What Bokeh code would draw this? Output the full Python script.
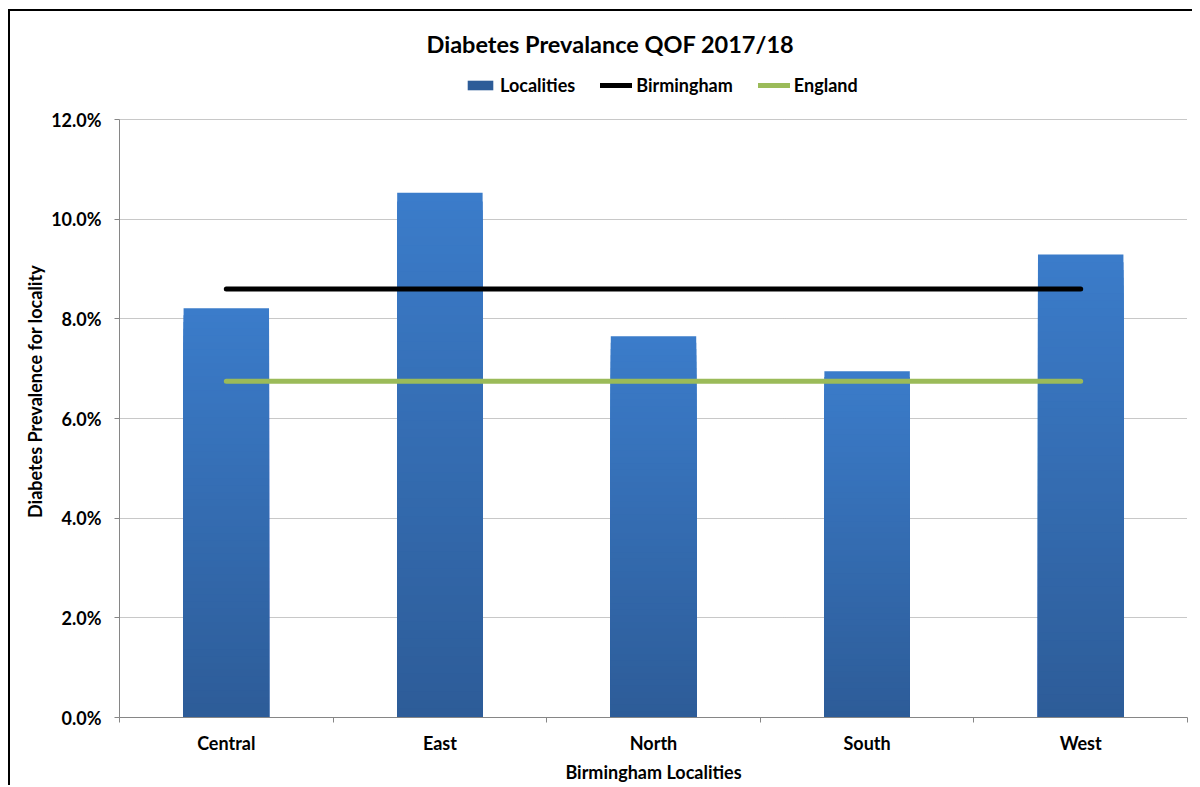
from bokeh.plotting import figure
from bokeh.models import (Legend, LegendItem, FixedTicker, PrintfTickFormatter,
                          ColumnDataSource, Range1d)
from bokeh.embed import file_html
from bokeh.resources import INLINE

# ---- data ----
categories = ["Central", "East", "North", "South", "West"]
localities = [8.21, 10.53, 7.65, 6.95, 9.29]
birmingham = [8.60, 8.60, 8.60, 8.60, 8.60]
england = [6.75, 6.75, 6.75, 6.75, 6.75]
y_ticks = [0, 2, 4, 6, 8, 10, 12]

FONT = "Lato"
TOP_RGB = (59, 124, 202)
BOT_RGB = (45, 92, 152)

xs = [i + 0.5 for i in range(len(categories))]

# gradient bars: nested layers from 0 up to a fraction of each value,
# tallest (lightest) first, shorter (darker) drawn over it
N = 60
gx, gtop, gcol = [], [], []
for k in range(N, 0, -1):
    f = (k - 0.5) / N
    c = tuple(int(round(b + (t - b) * f)) for t, b in zip(TOP_RGB, BOT_RGB))
    for x, v in zip(xs, localities):
        gx.append(x)
        gtop.append(v * k / N)
        gcol.append("#%02x%02x%02x" % c)
bar_src = ColumnDataSource(dict(x=gx, top=gtop, color=gcol))

# the plotting frame reaches above the 12% line to leave room for the legend
Y_MAX = y_ticks[-1]
PX_PER_UNIT = 598 / Y_MAX
HEADROOM_PX = 54
p = figure(frame_width=1068, frame_height=598 + HEADROOM_PX, output_backend="svg",
           toolbar_location=None,
           x_range=Range1d(0, 5), y_range=Range1d(0, Y_MAX + HEADROOM_PX / PX_PER_UNIT),
           min_border_left=109, min_border_top=54, min_border_right=5,
           min_border_bottom=58)
p.styles = {"border-left": "2px solid #000000", "border-top": "2px solid #000000",
            "margin-left": "8px", "margin-top": "9px"}
p.outline_line_color = None
p.background_fill_color = "white"
p.border_fill_color = "white"

bars = p.vbar(x="x", top="top", bottom=0, width=0.4, source=bar_src,
              fill_color="color", line_color=None)
bline = p.line(xs, birmingham, line_color="black", line_width=5, line_cap="round")
eline = p.line(xs, england, line_color="#9bbb59", line_width=5, line_cap="round")

# title
p.title.text = "Diabetes Prevalance QOF 2017/18"
p.title.text_font = FONT
p.title.text_font_size = "23.5px"
p.title.text_font_style = "bold"
p.title.text_color = "black"
p.title.align = "left"
p.title.offset = 307
p.title.standoff = 15

# x axis
xa = p.xaxis[0]
xa.ticker = FixedTicker(ticks=xs, minor_ticks=[0, 1, 2, 3, 4, 5])
xa.major_label_overrides = {x: c for x, c in zip(xs, categories)}
xa.major_tick_line_color = None
xa.major_tick_out = 0
xa.major_tick_in = 0
xa.minor_tick_line_color = "#868686"
xa.minor_tick_out = 5
xa.minor_tick_in = 0
xa.axis_line_color = "#868686"
xa.major_label_text_font = FONT
xa.major_label_text_font_style = "bold"
xa.major_label_text_font_size = "18px"
xa.major_label_text_color = "black"
xa.major_label_standoff = 9
xa.axis_label = "Birmingham Localities"
xa.axis_label_text_font = FONT
xa.axis_label_text_font_style = "bold"
xa.axis_label_text_font_size = "18px"
xa.axis_label_text_color = "black"
xa.axis_label_standoff = 4

# y axis
ya = p.yaxis[0]
ya.bounds = (0, Y_MAX)
ya.ticker = FixedTicker(ticks=y_ticks, minor_ticks=[])
ya.formatter = PrintfTickFormatter(format="%.1f%%")
ya.axis_line_color = "#868686"
ya.major_tick_line_color = "#868686"
ya.major_tick_out = 5
ya.major_tick_in = 0
ya.minor_tick_line_color = None
ya.major_label_text_font = FONT
ya.major_label_text_font_style = "bold"
ya.major_label_text_font_size = "18px"
ya.major_label_text_color = "black"
ya.major_label_standoff = 13
ya.axis_label = "Diabetes Prevalence for locality"
ya.axis_label_text_font = FONT
ya.axis_label_text_font_style = "bold"
ya.axis_label_text_font_size = "18px"
ya.axis_label_text_color = "black"
ya.axis_label_standoff = 2

# grid
p.xgrid.grid_line_color = None
p.ygrid.ticker = FixedTicker(ticks=y_ticks[1:])
p.ygrid.grid_line_color = "#909090"
p.ygrid.grid_line_dash = "1 1"
p.ygrid.grid_line_width = 1

# legend (screen offsets from the frame's bottom-left corner)
legend = Legend(items=[
    LegendItem(label="Localities", renderers=[bars], index=len(gx) - 1),
    LegendItem(label="Birmingham", renderers=[bline]),
    LegendItem(label="England", renderers=[eline]),
], orientation="horizontal", location=(345, 621))
legend.glyph_width = 32
legend.glyph_height = 12
legend.label_standoff = 4
legend.spacing = 25
legend.padding = 5
legend.margin = 0
legend.border_line_color = None
legend.background_fill_alpha = 0
legend.label_text_font = FONT
legend.label_text_font_style = "bold"
legend.label_text_font_size = "18px"
legend.label_text_color = "black"
p.add_layout(legend, "center")

open("out.html", "w").write(file_html(p, INLINE))
